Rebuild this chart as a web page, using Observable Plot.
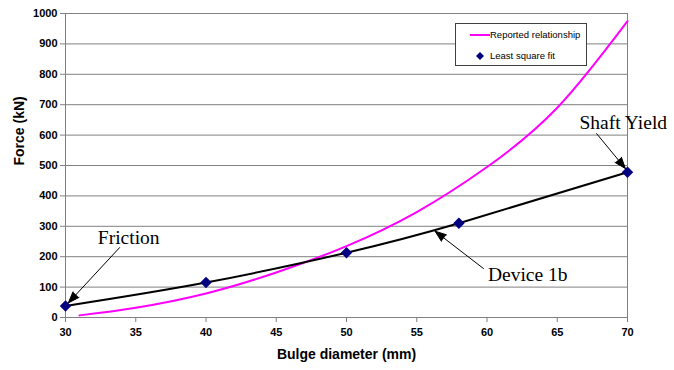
<!DOCTYPE html>
<html><head><meta charset="utf-8">
<script src="https://cdn.jsdelivr.net/npm/d3@7"></script>
<script src="https://cdn.jsdelivr.net/npm/@observablehq/plot@0.6"></script>
<style>
body{margin:0;background:#fff;}
#wrap{position:relative;width:674px;height:370px;font-family:Arial,"Liberation Sans",sans-serif;}
#legend{position:absolute;left:455px;top:23px;width:130px;height:41px;border:1px solid #404040;background:#fff;font-size:9.5px;color:#000;}
#legend .row{position:absolute;left:0;height:12px;line-height:12px;}
</style>
</head><body>
<div id="wrap"><div id="chart"></div>
<div id="legend">
<div class="row" style="top:5px"><span style="position:absolute;left:14px;top:5px;width:20px;height:2px;background:#ff00ff"></span><span style="position:absolute;left:34px;white-space:nowrap">Reported relationship</span></div>
<div class="row" style="top:26px"><svg style="position:absolute;left:20px;top:2px" width="8" height="8"><path d="M4 0L8 4L4 8L0 4Z" fill="#000080"/></svg><span style="position:absolute;left:34px;white-space:nowrap">Least square fit</span></div>
</div>
</div>
<script>
// Reported relationship curve
const reportedX = [31, 35, 40, 45, 50, 55, 60, 65, 70];
const reportedY = [7, 32, 79, 148, 235, 347, 495, 690, 975];
// Least square fit points (Device 1b)
const fitX = [30, 40, 50, 58, 70];
const fitY = [38, 115, 213, 310, 478];
// Ticks
const xTicks = [30, 35, 40, 45, 50, 55, 60, 65, 70];
const yTicks = [0, 100, 200, 300, 400, 500, 600, 700, 800, 900, 1000];
// Annotations
const noteText = ["Friction", "Shaft Yield", "Device 1b"];
const noteX = [34.5, 69.7, 62.9];
const noteY = [262, 640, 140];
const arrowX1 = [33.85, 67.8, 59.75];
const arrowY1 = [230, 605, 161];
const arrowX2 = [30.2, 69.85, 56.3];
const arrowY2 = [48, 490, 284];

const reported = reportedX.map((x, i) => ({x, y: reportedY[i]}));
const fit = fitX.map((x, i) => ({x, y: fitY[i]}));
const notes = noteText.map((t, i) => ({t, x: noteX[i], y: noteY[i]}));
const arrows = arrowX1.map((x1, i) => ({x1, y1: arrowY1[i], x2: arrowX2[i], y2: arrowY2[i]}));

const chart = Plot.plot({
  width: 674, height: 370,
  marginLeft: 65, marginRight: 47, marginTop: 13, marginBottom: 53,
  style: {fontFamily: "Arial, 'Liberation Sans', sans-serif", background: "#fff", overflow: "visible"},
  x: {domain: [30, 70], ticks: xTicks},
  y: {domain: [0, 1000], ticks: yTicks},
  marks: [
    Plot.ruleY(yTicks, {stroke: "#808080", strokeWidth: 1}),
    Plot.ruleX([30, 70], {stroke: "#808080", strokeWidth: 1}),
    Plot.axisY({ticks: yTicks, tickFormat: d => String(d), tickSize: 5, tickPadding: 3, stroke: "#808080", fontSize: 11, fontWeight: "bold", label: null}),
    Plot.axisX({ticks: xTicks, tickFormat: d => String(d), tickSize: 5, tickPadding: 6, stroke: "#808080", fontSize: 11, fontWeight: "bold", label: null}),
    Plot.text(["Force (kN)"], {frameAnchor: "left", dx: -46, rotate: -90, fontSize: 14, fontWeight: "bold"}),
    Plot.text(["Bulge diameter (mm)"], {frameAnchor: "bottom", dy: 41, fontSize: 14, fontWeight: "bold"}),
    Plot.line(reported, {x: "x", y: "y", stroke: "#ff00ff", strokeWidth: 2, curve: "natural"}),
    Plot.line(fit, {x: "x", y: "y", stroke: "#000", strokeWidth: 2, curve: "natural"}),
    Plot.dot(fit, {x: "x", y: "y", symbol: "diamond2", r: 4.2, fill: "#000080", stroke: "#000080"}),
    Plot.arrow(arrows, {x1: "x1", y1: "y1", x2: "x2", y2: "y2", stroke: "#000", fill: "#000", strokeWidth: 1, headLength: 18, headAngle: 40, insetEnd: 0}),
    Plot.text(notes, {x: "x", y: "y", text: "t", fontSize: 19.5, fontFamily: "'Times New Roman', 'Liberation Serif', serif", fill: "#000"})
  ]
});
document.getElementById("chart").appendChild(chart);
</script>
</body></html>
